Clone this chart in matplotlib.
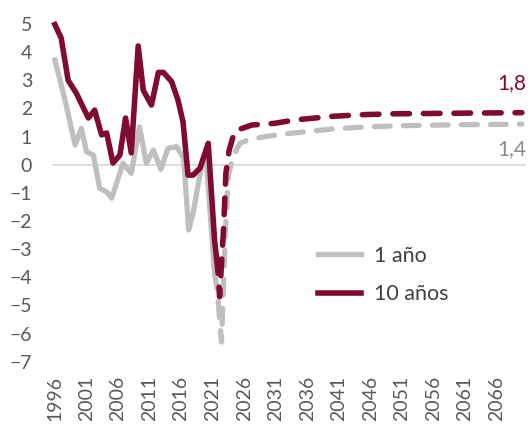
import matplotlib.pyplot as plt

# datos históricos (trazo continuo)
hist_yr_10 = [1996.0, 1997.0, 1998.1, 1999.4, 2001.3, 2002.3, 2003.4, 2004.2, 2005.2,
              2006.3, 2007.2, 2008.1, 2009.2, 2010.0, 2011.3, 2012.4, 2013.2, 2014.5,
              2015.5, 2016.3, 2017.1, 2017.9, 2019.0, 2019.8, 2020.3, 2021.3, 2021.6]
hist_10 = [4.98, 4.5, 3.0, 2.54, 1.66, 1.94, 1.06, 1.13, 0.06,
           0.34, 1.66, 0.42, 4.22, 2.65, 2.12, 3.28, 3.28, 2.95,
           2.30, 1.53, -0.37, -0.37, -0.12, 0.42, 0.76, -2.68, -3.27]

hist_yr_1 = [1996.0, 1997.6, 1999.2, 2000.2, 2001.0, 2002.1, 2003.1, 2004.2, 2005.0,
             2006.8, 2008.1, 2009.4, 2010.5, 2011.6, 2012.8, 2013.9, 2015.3, 2016.4,
             2017.2, 2017.9, 2019.2, 2020.0, 2021.3]
hist_1 = [3.72, 2.30, 0.70, 1.29, 0.46, 0.34, -0.84, -0.96, -1.19,
          0.05, -0.31, 1.35, 0.05, 0.52, -0.16, 0.58, 0.64, 0.23,
          -2.32, -1.73, -0.07, 0.11, -3.85]

# proyección (trazo discontinuo)
proj_yr_10 = [2021.6, 2021.9, 2022.1, 2022.7, 2023.1, 2023.6, 2024.5, 2027.2, 2030.8,
              2034, 2040, 2045, 2050, 2055, 2060, 2065, 2070]
proj_10 = [-3.27, -3.95, -4.69, -2.4, -0.3, 0.5, 1.2, 1.41, 1.47,
           1.59, 1.72, 1.78, 1.81, 1.82, 1.83, 1.84, 1.85]

proj_yr_1 = [2021.3, 2021.7, 2022.0, 2022.4, 2023.0, 2023.45, 2024.2, 2025.3, 2026.6,
             2029.3, 2033.5, 2040, 2045, 2050, 2055, 2060, 2065, 2070]
proj_1 = [-3.85, -4.4, -5.2, -6.3, -2.5, -0.43, 0.28, 0.76, 0.88,
          1.0, 1.12, 1.27, 1.34, 1.38, 1.40, 1.42, 1.43, 1.44]

xticks = list(range(1996, 2067, 5))
yticks = list(range(-7, 6))

RED = "#7f0c2e"
GRAY = "#bfbfbf"

plt.rcParams['font.family'] = ['Lato', 'DejaVu Sans']

fig = plt.figure(figsize=(5.3, 4.25), dpi=100)
ax = fig.add_axes([0.1, 0.149, 0.8906, 0.7945])

ax.axhline(0, color="#d9d9d9", lw=1.3, zorder=1)

ax.plot(hist_yr_1, hist_1, color=GRAY, lw=3.8, solid_joinstyle="round", label="1 año", zorder=2)
ax.plot(hist_yr_10, hist_10, color=RED, lw=4.0, solid_joinstyle="round", label="10 años", zorder=3)
ax.plot(proj_yr_1, proj_1, color=GRAY, lw=3.8, ls=(0, (3.0, 2.5)), dash_capstyle="round", zorder=2)
ax.plot(proj_yr_10, proj_10, color=RED, lw=4.0, ls=(0, (3.0, 2.5)), dash_capstyle="round", zorder=3)

ax.annotate("1,8", (proj_yr_10[-1], proj_10[-1]), xytext=(3, 14), textcoords="offset points",
            ha="right", va="bottom", color=RED, fontsize=15)
ax.annotate("1,4", (proj_yr_1[-1], proj_1[-1]), xytext=(3, -11), textcoords="offset points",
            ha="right", va="top", color="#8c8c8c", fontsize=15)

ax.set_xlim(1995.7, 2070.5)
ax.set_ylim(-7, 5)
ax.set_xticks(xticks)
ax.set_xticklabels([str(t) for t in xticks], rotation=90)
ax.set_yticks(yticks)
ax.tick_params(axis="both", length=0, labelsize=14, colors="#595959")
ax.tick_params(axis="x", pad=10)
ax.tick_params(axis="y", pad=15)
for s in ax.spines.values():
    s.set_visible(False)

leg = ax.legend(loc="center left", bbox_to_anchor=(0.561, 0.257), frameon=False,
                borderpad=0, borderaxespad=0, handlelength=2.0, handletextpad=0.6,
                labelspacing=0.85, fontsize=15.5)
for t in leg.get_texts():
    t.set_color("#404040")

for line in ax.get_lines():
    line.set_clip_on(False)

fig.savefig("out.png", dpi=100)
